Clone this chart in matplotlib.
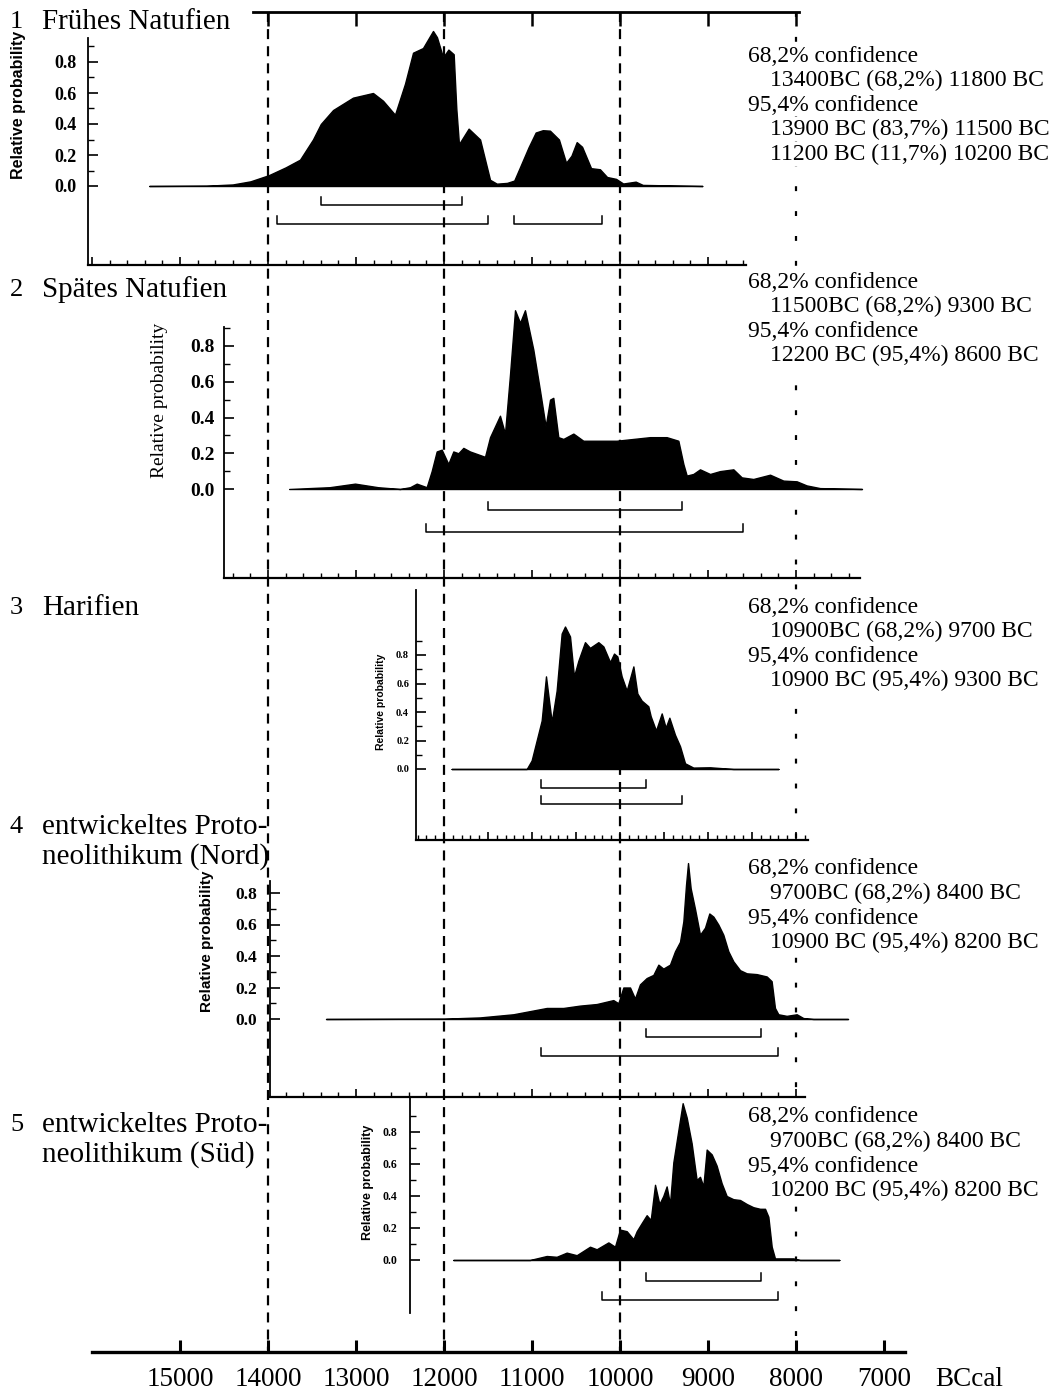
import numpy as np
import matplotlib.pyplot as plt
from matplotlib.ticker import MultipleLocator, FixedLocator, FormatStrFormatter

plt.rcParams['font.family'] = ['Liberation Serif', 'DejaVu Serif']

W, H = 1057, 1392

# ---- data (years BC cal, relative probability) ----
p1_years = [15350, 14700, 14400, 14200, 13990, 13800, 13636, 13489, 13400, 13261, 13034, 12807,
            12693, 12557, 12443, 12352, 12239, 12125, 12080, 12011, 11950, 11890, 11860, 11830,
            11720, 11590, 11477, 11400, 11284, 11202, 11141, 11039, 10958, 10877, 10796, 10694,
            10613, 10552, 10492, 10431, 10329, 10228, 10147, 10045, 9964, 9822, 9741, 9063]
p1_prob = [0, 0.002, 0.01, 0.03, 0.07, 0.12, 0.17, 0.30, 0.40, 0.49, 0.57, 0.60,
           0.55, 0.46, 0.66, 0.86, 0.89, 1.0, 0.96, 0.83, 0.88, 0.85, 0.50, 0.27,
           0.37, 0.30, 0.04, 0.015, 0.02, 0.035, 0.115, 0.25, 0.345, 0.36, 0.357, 0.30,
           0.15, 0.195, 0.283, 0.253, 0.115, 0.108, 0.058, 0.046, 0.016, 0.028, 0.007, 0]
p1_ci68 = [(13400, 11800)]
p1_ci95 = [(13900, 11500), (11200, 10200)]
p1_text = ['68,2% confidence', '13400BC (68,2%) 11800 BC', '95,4% confidence',
           '13900 BC (83,7%) 11500 BC', '11200 BC (11,7%) 10200 BC']

p2_years = [13760, 13300, 13011, 12750, 12500, 12386, 12310, 12197, 12140, 12083, 12026, 11951,
            11894, 11837, 11780, 11705, 11591, 11534, 11477, 11364, 11307, 11250, 11193, 11136,
            11080, 10985, 10909, 10845, 10795, 10758, 10701, 10644, 10530, 10417, 10227, 10038,
            9848, 9659, 9470, 9337, 9280, 9242, 9167, 9091, 8977, 8864, 8712, 8617, 8485, 8295,
            8144, 7992, 7879, 7727, 7250]
p2_prob = [0, 0.01, 0.03, 0.01, 0, 0.01, 0.03, 0.01, 0.10, 0.21, 0.22, 0.14,
           0.21, 0.20, 0.23, 0.21, 0.19, 0.18, 0.29, 0.41, 0.31, 0.64, 1.0, 0.93,
           1.0, 0.78, 0.55, 0.35, 0.50, 0.51, 0.29, 0.28, 0.31, 0.27, 0.27, 0.27,
           0.28, 0.29, 0.29, 0.27, 0.14, 0.075, 0.084, 0.11, 0.084, 0.10, 0.11, 0.065, 0.056, 0.08,
           0.047, 0.043, 0.02, 0.005, 0]
p2_ci68 = [(11500, 9300)]
p2_ci95 = [(12200, 8600)]
p2_text = ['68,2% confidence', '11500BC (68,2%) 9300 BC', '95,4% confidence',
           '12200 BC (95,4%) 8600 BC']

p3_years = [11913, 11060, 11004, 10947, 10890, 10841, 10776, 10720, 10663, 10625, 10568, 10523,
            10473, 10398, 10341, 10246, 10189, 10113, 10068, 10030, 9981, 9924, 9848, 9803,
            9754, 9678, 9651, 9591, 9526, 9481, 9439, 9375, 9318, 9261, 9167, 8977, 8712, 8200]
p3_prob = [0, 0, 0.06, 0.20, 0.34, 0.65, 0.33, 0.55, 0.95, 1.0, 0.93, 0.65,
           0.76, 0.89, 0.85, 0.89, 0.86, 0.75, 0.81, 0.79, 0.65, 0.55, 0.72, 0.53,
           0.48, 0.44, 0.37, 0.27, 0.39, 0.29, 0.36, 0.24, 0.16, 0.04, 0.01, 0.012, 0, 0]
p3_ci68 = [(10900, 9700)]
p3_ci95 = [(10900, 9300)]
p3_text = ['68,2% confidence', '10900BC (68,2%) 9700 BC', '95,4% confidence',
           '10900 BC (95,4%) 9300 BC']

p4_years = [13341, 12000, 11800, 11591, 11212, 10833, 10644, 10455, 10265, 10076, 10019, 9962,
            9886, 9830, 9773, 9697, 9621, 9564, 9508, 9432, 9375, 9318, 9280, 9250, 9227, 9197,
            9148, 9091, 9034, 8985, 8939, 8883, 8826, 8769, 8712, 8636, 8560, 8447, 8333, 8277,
            8239, 8201, 8106, 7992, 7917, 7803, 7409]
p4_prob = [0, 0.002, 0.006, 0.01, 0.03, 0.07, 0.07, 0.085, 0.095, 0.12, 0.10, 0.20,
           0.20, 0.13, 0.22, 0.26, 0.28, 0.345, 0.32, 0.345, 0.43, 0.49, 0.62, 0.85, 0.99, 0.83,
           0.70, 0.535, 0.58, 0.67, 0.65, 0.60, 0.535, 0.43, 0.366, 0.31, 0.29, 0.285, 0.27, 0.24,
           0.07, 0.03, 0.02, 0.03, 0.006, 0, 0]
p4_ci68 = [(9700, 8400)]
p4_ci95 = [(10900, 8200)]
p4_text = ['68,2% confidence', '9700BC (68,2%) 8400 BC', '95,4% confidence',
           '10900 BC (95,4%) 8200 BC']

p5_years = [11894, 11023, 10833, 10720, 10606, 10492, 10341, 10265, 10132, 10057, 10000, 9924,
            9848, 9810, 9754, 9697, 9651, 9602, 9553, 9508, 9470, 9432, 9394, 9337, 9288, 9242,
            9186, 9129, 9091, 9053, 9015, 8958, 8902, 8845, 8788, 8712, 8636, 8560, 8485, 8409,
            8352, 8314, 8276, 8239, 8030, 7955, 7508]
p5_prob = [0, 0, 0.025, 0.02, 0.046, 0.03, 0.083, 0.067, 0.11, 0.083, 0.19, 0.18,
           0.13, 0.18, 0.23, 0.28, 0.25, 0.47, 0.35, 0.40, 0.46, 0.35, 0.61, 0.81, 0.98, 0.89,
           0.73, 0.50, 0.52, 0.46, 0.69, 0.66, 0.59, 0.48, 0.40, 0.38, 0.375, 0.35, 0.33, 0.32,
           0.32, 0.27, 0.083, 0.01, 0.01, 0, 0]
p5_ci68 = [(9700, 8400)]
p5_ci95 = [(10200, 8200)]
p5_text = ['68,2% confidence', '9700BC (68,2%) 8400 BC', '95,4% confidence',
           '10200 BC (95,4%) 8200 BC']

time_ticks = [15000, 14000, 13000, 12000, 11000, 10000, 9000, 8000, 7000]
guide_years = [14000, 12000, 10000]
guide_dotted = 8000


def yr(px):
    # pixel column -> calendar year of the common time scale
    return 14000 - (px - 268) / 0.088


def rect(l, t, r, b):
    return [l / W, 1 - b / H, (r - l) / W, (b - t) / H]


fig = plt.figure(figsize=(W / 100, H / 100), dpi=100)

# background axes for the long guide lines
bg = fig.add_axes([0, 0, 1, 1], zorder=-1)
bg.set_xlim(yr(0), yr(W))
bg.set_ylim(H, 0)
bg.axis('off')
for g in guide_years:
    bg.plot([g, g], [12, 1350], color='black', lw=1.6, ls=(0, (4.5, 3.2)))
bg.plot([guide_dotted, guide_dotted], [12, 1350], color='black', lw=1.6, ls=(0, (2.2, 9)))

# top bar above panel 1
top = fig.add_axes(rect(253, 12, 799, 40))
top.set_facecolor('none')
top.set_xlim(yr(253), yr(799))
for s in ['left', 'right', 'bottom']:
    top.spines[s].set_visible(False)
top.spines['top'].set_linewidth(2.0)
top.set_yticks([])
top.xaxis.set_major_locator(MultipleLocator(1000))
top.tick_params(axis='x', top=True, bottom=False, labeltop=False, labelbottom=False,
                direction='in', length=10, width=1.8)

# common time axis at the bottom
tax = fig.add_axes(rect(92, 1300, 905, 1352))
tax.set_facecolor('none')
tax.set_xlim(yr(92), yr(905))
for s in ['left', 'right', 'top']:
    tax.spines[s].set_visible(False)
tax.spines['bottom'].set_linewidth(2.4)
tax.set_yticks([])
tax.set_xticks(time_ticks)
tax.set_xticklabels([str(t) for t in time_ticks], fontsize=19.5)
tax.tick_params(axis='x', direction='in', length=9, width=2.2, pad=11)
fig.text(935 / W, 1 - 1380 / H, 'BCcal', fontsize=19.5, va='center', ha='left')

panels = [
    dict(data=(p1_years, p1_prob, p1_ci68, p1_ci95, p1_text),
         box=(88, 38, 746, 265), y0=186, pu=155, lev=(205, 224), xbottom=True, xminor=200, xmajor=1000,
         tsize=13, tpad=8, tfont='Liberation Serif', lab=(18, 105), lsize=11.5,
         lfont=['Liberation Sans Narrow', 'Liberation Sans'], lweight='bold',
         title=('1', 'Frühes Natufien'), ty=(22,), txt_y=56),
    dict(data=(p2_years, p2_prob, p2_ci68, p2_ci95, p2_text),
         box=(224, 327, 860, 578), y0=489, pu=178.75, lev=(510, 532), xbottom=True, xminor=200, xmajor=1000,
         tsize=14, tpad=7, tfont='Liberation Serif', lab=(160, 400), lsize=14,
         lfont=['Liberation Serif'], lweight='normal',
         title=('2', 'Spätes Natufien'), ty=(290,), txt_y=282),
    dict(data=(p3_years, p3_prob, p3_ci68, p3_ci95, p3_text),
         box=(416, 590, 808, 840), y0=769, pu=142.5, lev=(788, 804), xbottom=True, xminor=100, xmajor=500,
         tsize=7.5, tpad=5, tfont='Liberation Serif', lab=(381, 702), lsize=7.5,
         lfont=['Liberation Sans Narrow', 'Liberation Sans'], lweight='bold',
         title=('3', 'Harifien'), ty=(608,), txt_y=607),
    dict(data=(p4_years, p4_prob, p4_ci68, p4_ci95, p4_text),
         box=(270, 881, 805, 1097), y0=1019, pu=157.5, lev=(1037, 1056), xbottom=True, xminor=200, xmajor=1000,
         tsize=12.5, tpad=9, tfont='Liberation Serif', lab=(207, 941), lsize=11,
         lfont=['Liberation Sans Narrow', 'Liberation Sans'], lweight='bold',
         title=('4', 'entwickeltes Proto-', 'neolithikum (Nord)'), ty=(827, 857), txt_y=869),
    dict(data=(p5_years, p5_prob, p5_ci68, p5_ci95, p5_text),
         box=(410, 1098, 850, 1313), y0=1260, pu=160, lev=(1281, 1300), xbottom=False, xminor=200, xmajor=1000,
         tsize=8.5, tpad=9, tfont='Liberation Serif', lab=(368, 1182), lsize=9,
         lfont=['Liberation Sans Narrow', 'Liberation Sans'], lweight='bold',
         title=('5', 'entwickeltes Proto-', 'neolithikum (Süd)'), ty=(1125, 1155), txt_y=1117),
]

for p in panels:
    years, prob, ci68, ci95, text = p['data']
    l, t, r, b = p['box']
    y0, pu = p['y0'], p['pu']
    ax = fig.add_axes(rect(l, t, r, b))
    ax.set_facecolor('none')
    ax.set_xlim(yr(l), yr(r))
    ax.set_ylim(-(b - y0) / pu, (y0 - t) / pu)

    ax.fill_between(years, prob, 0, color='black', lw=1.0, zorder=3, clip_on=False)
    hook = 8 / pu
    lev68 = (y0 - p['lev'][0]) / pu
    lev95 = (y0 - p['lev'][1]) / pu
    for a, z in ci68:
        ax.plot([a, a, z, z], [lev68 + hook, lev68, lev68, lev68 + hook], color='black', lw=1.1)
    for a, z in ci95:
        ax.plot([a, a, z, z], [lev95 + hook, lev95, lev95, lev95 + hook], color='black', lw=1.1)

    ax.spines['top'].set_visible(False)
    ax.spines['right'].set_visible(False)
    ax.spines['left'].set_linewidth(1.3)
    ax.spines['bottom'].set_linewidth(1.6)
    ax.spines['bottom'].set_visible(p['xbottom'])

    ax.yaxis.set_major_locator(FixedLocator([0, 0.2, 0.4, 0.6, 0.8]))
    ax.yaxis.set_minor_locator(FixedLocator([0.1, 0.3, 0.5, 0.7, 0.9]))
    ax.yaxis.set_major_formatter(FormatStrFormatter('%.1f'))
    ax.tick_params(axis='y', which='major', direction='in', length=7, width=1.2,
                   pad=p['tpad'], labelsize=p['tsize'])
    ax.tick_params(axis='y', which='minor', direction='in', length=4, width=1.0)
    for lbl in ax.get_yticklabels():
        lbl.set_fontweight('bold')
        lbl.set_family(p['tfont'])

    if p['xbottom']:
        ax.xaxis.set_major_locator(MultipleLocator(p['xmajor']))
        ax.xaxis.set_minor_locator(MultipleLocator(p['xminor']))
        ax.tick_params(axis='x', which='major', direction='in', length=6, width=1.2, labelbottom=False)
        ax.tick_params(axis='x', which='minor', direction='in', length=3.5, width=1.0)
    else:
        ax.set_xticks([])

    lx, ly = p['lab']
    fig.text(lx / W, 1 - ly / H, 'Relative probability', rotation=90, ha='center', va='center',
             fontsize=p['lsize'], family=p['lfont'], fontweight=p['lweight'])

    fig.text(10 / W, 1 - p['ty'][0] / H, p['title'][0], fontsize=19, va='center', ha='left')
    for k, line in enumerate(p['title'][1:]):
        fig.text(42 / W, 1 - p['ty'][k] / H, line, fontsize=21, va='center', ha='left')

    for k, line in enumerate(text):
        x = 748 if k in (0, 2) else 770
        fig.text(x / W, 1 - (p['txt_y'] + k * 24.6) / H, line, fontsize=17, va='center', ha='left',
                 bbox=dict(fc='white', ec='none', pad=0.5))

fig.savefig('out.png', dpi=100)
